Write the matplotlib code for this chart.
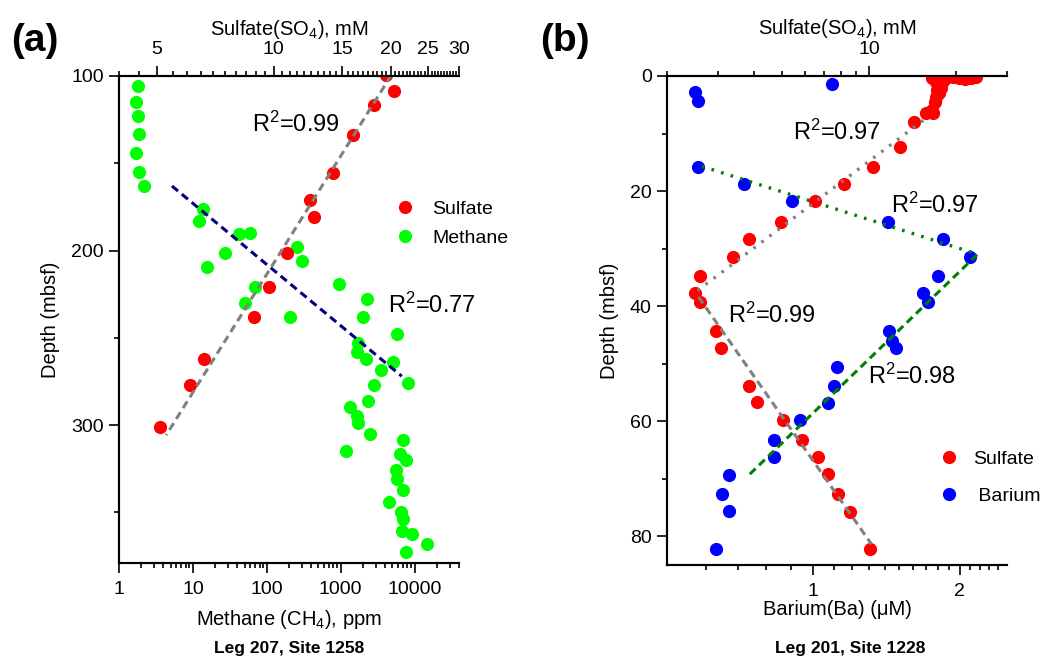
import numpy as np
import matplotlib
matplotlib.use('Agg')
import matplotlib.pyplot as plt
from matplotlib.ticker import FixedLocator, FixedFormatter, NullFormatter
from matplotlib.lines import Line2D

plt.rcParams['font.family'] = ['Liberation Sans', 'DejaVu Sans']
plt.rcParams['mathtext.fontset'] = 'custom'
plt.rcParams['mathtext.rm'] = 'Liberation Sans'
plt.rcParams['mathtext.it'] = 'Liberation Sans:italic'
plt.rcParams['mathtext.bf'] = 'Liberation Sans:bold'

# ---- panel (a): Leg 207, Site 1258 ----
meth_a = [1.81, 1.69, 1.79, 1.89, 1.69, 1.87, 2.19, 13.8, 12.2, 42.7,
          58.4, 27, 15.4, 256, 303, 70, 51.5, 955, 2250, 2020,
          204, 5870, 1740, 1640, 2200, 5070, 3510, 2830, 8110, 2370,
          1330, 1680, 1740, 2500, 1200, 7060, 6370, 7690, 5620, 5740,
          6940, 4520, 6500, 6940, 6850, 9180, 14970, 7620]
meth_a_depth = [105.6, 115, 123, 133, 144, 155, 163, 176, 183, 190.5,
                190, 201.6, 209.5, 198, 206, 220.7, 230, 219, 228, 238,
                238, 248, 253, 258, 262, 264, 268.5, 277, 276, 286,
                289.5, 295, 299, 305, 314.7, 308.6, 316.6, 320, 326, 331,
                337, 344, 350, 354, 360.6, 362.6, 368, 372.6]
sulf_a = [19.5, 20.4, 18.1, 16.0, 14.2, 12.4, 12.7, 10.8, 9.75, 8.9, 6.61, 6.08, 5.1]
sulf_a_depth = [99.5, 108.6, 116.6, 134, 155.4, 171, 180.6, 201.6, 220.7, 238.3, 262.4, 277, 301]

# trend lines (end points)
fit_sulf_a_conc = [20.1, 5.29]
fit_sulf_a_depth = [99.4, 305.7]
fit_meth_a_conc = [5.2, 6720]
fit_meth_a_depth = [163, 272]

# ---- panel (b): Leg 201, Site 1228 ----
sulf_b = [16.5, 17.5, 18.5, 19.5, 20.5, 21.5, 22.5, 23.5, 17.0, 18.0,
          17.3, 17.8, 17.2, 17.4, 17.1, 16.9, 16.5, 16.7, 15.7, 14.3,
          12.8, 10.3, 8.2, 6.5, 4.97, 3.84, 3.37, 2.6, 2.5, 2.61,
          2.96, 3.07, 3.84, 4.11, 5.03, 5.88, 6.65, 7.23, 7.8, 8.6, 10.1]
sulf_b_depth = [0.3, 0.2, 0.4, 0.2, 0.3, 0.5, 0.3, 0.1, 1.0, 0.8,
                1.5, 2.0, 2.5, 3.0, 3.6, 4.5, 5.9, 6.5, 6.4, 8.0,
                12.3, 15.8, 18.8, 21.8, 25.3, 28.3, 31.4, 34.7, 37.8, 39.3,
                44.3, 47.2, 53.8, 56.7, 59.8, 63.3, 66.2, 69.2, 72.7, 75.8, 82.3]
ba_b = [0.571, 0.58, 1.093, 0.58, 0.72, 0.904, 1.42, 1.85, 2.1, 1.8,
        1.68, 1.72, 1.43, 1.45, 1.48, 1.12, 1.1, 1.07, 0.94, 0.83,
        0.83, 0.67, 0.65, 0.67, 0.63]
ba_b_depth = [2.7, 4.4, 1.4, 15.8, 18.8, 21.8, 25.3, 28.3, 31.4, 34.8,
              37.8, 39.3, 44.3, 46.1, 47.3, 50.6, 53.8, 56.9, 59.8, 63.3,
              66.2, 69.3, 72.7, 75.7, 82.3]

fit_sulf_b1_conc = [15.4, 2.55]
fit_sulf_b1_depth = [7.7, 37.3]
fit_ba_b1_conc = [0.59, 2.18]
fit_ba_b1_depth = [15.7, 31.0]
fit_sulf_b2_conc = [2.57, 10.2]
fit_sulf_b2_depth = [38.4, 81.4]
fit_ba_b2_conc = [0.74, 2.18]
fit_ba_b2_depth = [69.2, 30.9]

W, H = 1052, 662
fig = plt.figure(figsize=(W / 100, H / 100), dpi=100)

ms = 9.5
dash = (0, (2.6, 1.6))
dots = (0, (0.8, 2.2))
fs_tick = 14
fs_lab = 14.5
fs_r2 = 17


def style_axes(ax, ax2):
    for a in (ax, ax2):
        for s in a.spines.values():
            s.set_linewidth(1.5)
        a.spines['right'].set_visible(False)
        a.tick_params(which='major', direction='out', length=7, width=1.2, labelsize=fs_tick, pad=6)
        a.tick_params(which='minor', direction='out', length=3.5, width=1.2)
    ax.tick_params(axis='y', pad=4)
    ax.tick_params(right=False, top=False, which='both')
    ax2.tick_params(right=False, which='both')


# ---------------- (a) ----------------
axA = fig.add_axes([119 / W, 1 - 563 / H, 340 / W, 487 / H])
axA2 = axA.twiny()
style_axes(axA, axA2)

axA.plot(meth_a, meth_a_depth, 'o', color='#00ff00', ms=ms, mec='none')
axA.plot(fit_meth_a_conc, fit_meth_a_depth, color='#000080', lw=2.2, ls=dash)
axA2.plot(sulf_a, sulf_a_depth, 'o', color='#ff0000', ms=ms, mec='none')
axA2.plot(fit_sulf_a_conc, fit_sulf_a_depth, color='#808080', lw=2.2, ls=dash)

axA.set_xscale('log')
axA.set_xlim(1, 40000)
axA.xaxis.set_major_locator(FixedLocator([1, 10, 100, 1000, 10000]))
axA.xaxis.set_major_formatter(FixedFormatter(['1', '10', '100', '1000', '10000']))
minA = [m * 10 ** e for e in range(0, 5) for m in range(2, 10) if m * 10 ** e <= 40000]
axA.xaxis.set_minor_locator(FixedLocator(minA))
axA.xaxis.set_minor_formatter(NullFormatter())
axA.set_ylim(379, 100)
axA.yaxis.set_major_locator(FixedLocator([100, 200, 300]))
axA.yaxis.set_minor_locator(FixedLocator([150, 250, 350]))

axA2.set_xscale('log')
axA2.set_xlim(4, 30)
axA2.xaxis.set_major_locator(FixedLocator([5, 10, 15, 20, 25, 30]))
axA2.xaxis.set_major_formatter(FixedFormatter(['5', '10', '15', '20', '25', '30']))
axA2.xaxis.set_minor_locator(FixedLocator(np.arange(4, 30.01, 0.5)))
axA2.xaxis.set_minor_formatter(NullFormatter())
axA2.set_ylim(379, 100)

axA.set_xlabel('Methane (CH$_4$), ppm', fontsize=fs_lab, labelpad=7)
axA2.set_xlabel('Sulfate(SO$_4$), mM', fontsize=fs_lab, labelpad=4)
axA.set_ylabel('Depth (mbsf)', fontsize=fs_lab, labelpad=8)

axA2.text(0.39, 0.9, 'R$^2$=0.99', transform=axA.transAxes, fontsize=fs_r2, va='center')
axA2.text(0.79, 0.53, 'R$^2$=0.77', transform=axA.transAxes, fontsize=fs_r2, va='center')

hA = [Line2D([], [], ls='none', marker='o', color='#ff0000', ms=ms, mec='none'),
      Line2D([], [], ls='none', marker='o', color='#00ff00', ms=ms, mec='none')]
axA2.legend(hA, ['Sulfate', 'Methane'], loc='upper left', bbox_to_anchor=(0.755, 0.78),
            frameon=False, fontsize=14, handlelength=1.2, handletextpad=0.8, labelspacing=0.55)

# ---------------- (b) ----------------
axB = fig.add_axes([667 / W, 1 - 565 / H, 340 / W, 489 / H])
axB2 = axB.twiny()
style_axes(axB, axB2)

axB.plot(ba_b, ba_b_depth, 'o', color='#0000ff', ms=ms, mec='none')
axB2.plot(sulf_b, sulf_b_depth, 'o', color='#ff0000', ms=ms, mec='none')
axB2.plot(fit_sulf_b1_conc, fit_sulf_b1_depth, color='#808080', lw=2.4, ls=dots)
axB2.plot(fit_sulf_b2_conc, fit_sulf_b2_depth, color='#808080', lw=2.2, ls=dash)
axB.plot(fit_ba_b1_conc, fit_ba_b1_depth, color='#008000', lw=2.4, ls=dots)
axB.plot(fit_ba_b2_conc, fit_ba_b2_depth, color='#008000', lw=2.2, ls=dash)

axB.set_xscale('log')
axB.set_xlim(0.5, 2.5)
axB.xaxis.set_major_locator(FixedLocator([1, 2]))
axB.xaxis.set_major_formatter(FixedFormatter(['1', '2']))
minB = [v for v in np.arange(0.6, 2.45, 0.1) if abs(v - 1) > 1e-6 and abs(v - 2) > 1e-6]
axB.xaxis.set_minor_locator(FixedLocator(minB))
axB.xaxis.set_minor_formatter(NullFormatter())
axB.set_ylim(85, 0)
axB.yaxis.set_major_locator(FixedLocator([0, 20, 40, 60, 80]))
axB.yaxis.set_minor_locator(FixedLocator([10, 30, 50, 70]))

axB2.set_xscale('log')
axB2.set_xlim(2, 30)
axB2.xaxis.set_major_locator(FixedLocator([10]))
axB2.xaxis.set_major_formatter(FixedFormatter(['10']))
axB2.xaxis.set_minor_locator(FixedLocator([2, 3, 4, 5, 6, 7, 8, 9, 20, 30]))
axB2.xaxis.set_minor_formatter(NullFormatter())
axB2.set_ylim(85, 0)

axB.set_xlabel('Barium(Ba) (\u03bcM)', fontsize=fs_lab, labelpad=0)
axB2.set_xlabel('Sulfate(SO$_4$), mM', fontsize=fs_lab, labelpad=5)
axB.set_ylabel('Depth (mbsf)', fontsize=fs_lab, labelpad=8)

axB2.text(0.37, 0.885, 'R$^2$=0.97', transform=axB.transAxes, fontsize=fs_r2, va='center')
axB2.text(0.66, 0.735, 'R$^2$=0.97', transform=axB.transAxes, fontsize=fs_r2, va='center')
axB2.text(0.18, 0.51, 'R$^2$=0.99', transform=axB.transAxes, fontsize=fs_r2, va='center')
axB2.text(0.59, 0.385, 'R$^2$=0.98', transform=axB.transAxes, fontsize=fs_r2, va='center')

hB = [Line2D([], [], ls='none', marker='o', color='#ff0000', ms=ms, mec='none'),
      Line2D([], [], ls='none', marker='o', color='#0000ff', ms=ms, mec='none')]
axB2.legend(hB, ['Sulfate', ' Barium'], loc='upper left', bbox_to_anchor=(0.745, 0.27),
            frameon=False, fontsize=14, handlelength=1.2, handletextpad=0.6, labelspacing=1.0)

# panel tags and site captions
fig.text(35 / W, 1 - 41 / H, '(a)', fontsize=28, fontweight='bold', ha='center', va='center')
fig.text(565 / W, 1 - 41 / H, '(b)', fontsize=28, fontweight='bold', ha='center', va='center')
fig.text(289 / W, 1 - 648 / H, 'Leg 207, Site 1258', fontsize=12.5, fontweight='bold', ha='center', va='center')
fig.text(850 / W, 1 - 648 / H, 'Leg 201, Site 1228', fontsize=12.5, fontweight='bold', ha='center', va='center')

fig.savefig('out.png', dpi=100)
